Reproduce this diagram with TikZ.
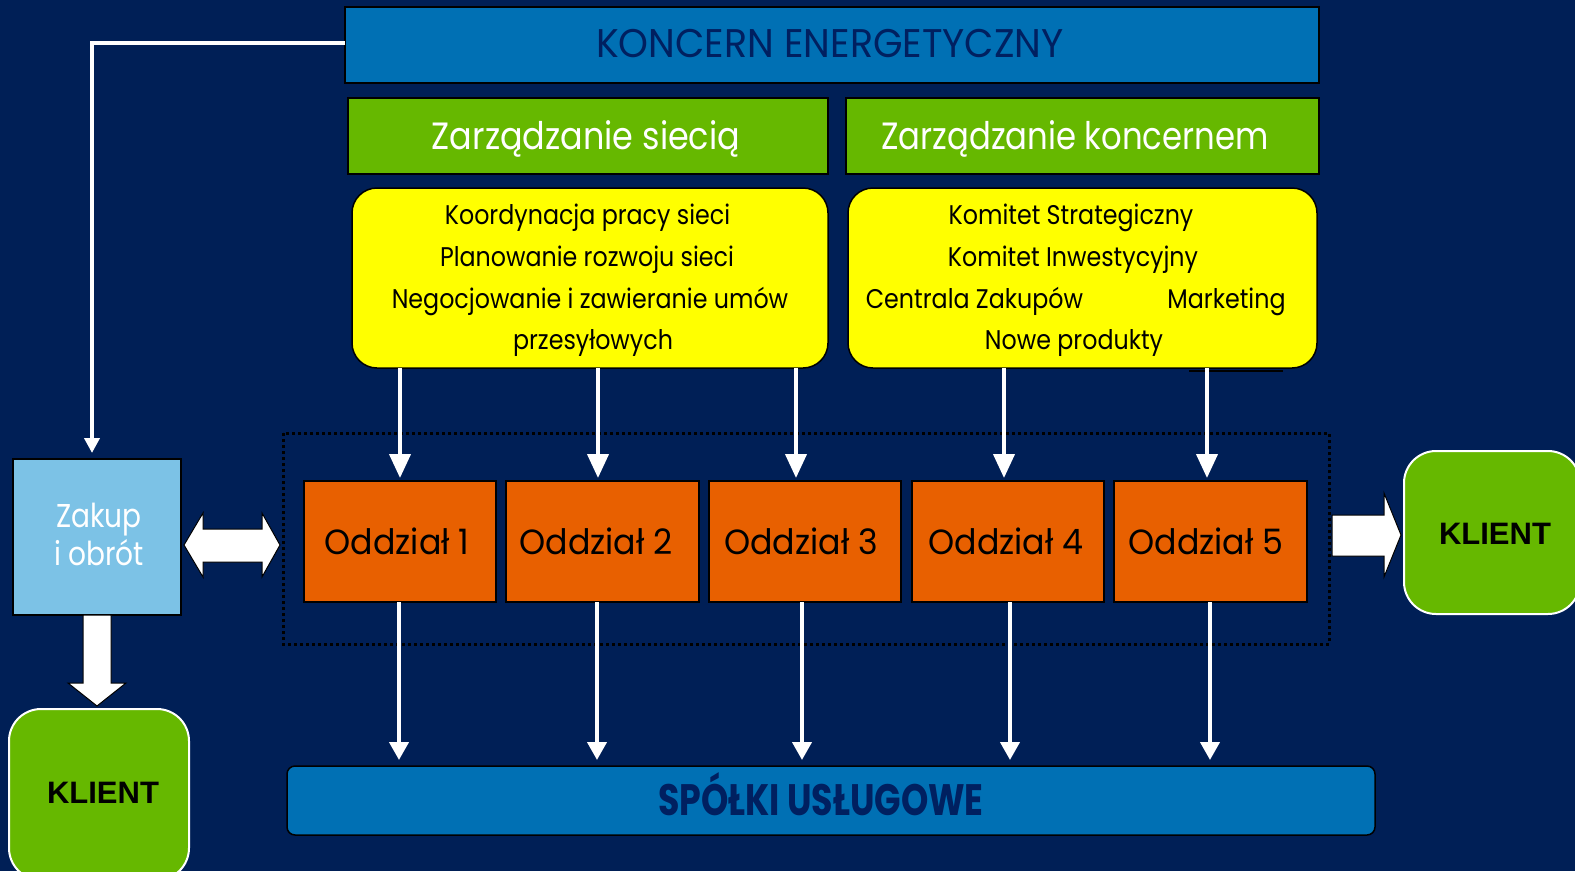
\documentclass[tikz,border=0pt]{standalone}
\usepackage{fontspec}
\setmainfont{Poppins}
\newfontfamily\fut[FakeStretch=0.85]{Poppins}
\newfontfamily\futm[FakeStretch=0.88]{Poppins}
\newfontfamily\futw[FakeStretch=0.95]{Poppins}
\newfontfamily\futc[FakeStretch=0.79]{Poppins}
\newfontfamily\arial{Liberation Sans}
\usetikzlibrary{arrows.meta,calc}
\definecolor{bgc}{RGB}{0,31,86}
\definecolor{bluec}{RGB}{0,112,180}
\definecolor{greenc}{RGB}{102,184,0}
\definecolor{yellowc}{RGB}{255,255,0}
\definecolor{orangec}{RGB}{232,96,0}
\definecolor{lightc}{RGB}{124,194,230}
\definecolor{navyc}{RGB}{0,32,96}
\begin{document}
\begin{tikzpicture}[x=1pt,y=-1pt,
  box/.style={draw=black,line width=1.5pt,inner sep=0pt,outer sep=0pt},
  txt/.style={inner sep=0pt,outer sep=0pt,anchor=base},
  yl/.style={txt,font=\futm\fontsize{27}{32}\selectfont,text=black},
  odd/.style={txt,font=\futw\fontsize{35}{40}\selectfont,text=black},
  kl/.style={txt,font=\arial\bfseries\fontsize{31}{36}\selectfont,text=black},
  arr/.style={draw=white,line width=4pt,-{Triangle[width=21pt,length=24pt]}},
  arrb/.style={draw=white,line width=4pt,-{Triangle[width=19pt,length=18pt]}},
  arrs/.style={draw=white,line width=4pt,-{Triangle[width=15pt,length=15pt]}},
  blockarr/.style={fill=white,draw=black,line width=1pt,line join=miter}
]
\fill[bgc] (0,0) rectangle (1575,871);
\useasboundingbox (0,0) rectangle (1575,871);

% boxes
\node[box,fill=bluec,minimum width=974pt,minimum height=76pt] (koncern) at (832,45) {};
\node[box,fill=greenc,minimum width=480pt,minimum height=76pt] (zs) at (588,136) {};
\node[box,fill=greenc,minimum width=473pt,minimum height=76pt] (zk) at (1082.5,136) {};
\node[box,fill=yellowc,rounded corners=25pt,minimum width=476pt,minimum height=180pt] (ys) at (590,278) {};
\node[box,fill=yellowc,rounded corners=25pt,minimum width=469pt,minimum height=180pt] (yk) at (1082.5,278) {};
\draw[black,line width=2pt] (1189,371) -- (1283,371);

\draw[black,line width=3pt,dash pattern=on 3pt off 3pt] (283,433) rectangle (1329,644);

\node[box,fill=lightc,minimum width=168pt,minimum height=156pt] (zakup) at (97,537) {};
\foreach \n/\cx/\w in {1/400/192,2/602.5/193,3/805/192,4/1008/192,5/1210.5/193}
  \node[box,fill=orangec,minimum width=\w pt,minimum height=121pt] (o\n) at (\cx,541.5) {};
\node[box,fill=bluec,rounded corners=8pt,minimum width=1088pt,minimum height=69pt] (spolki) at (831,800.5) {};
\node[draw=white,line width=2pt,fill=greenc,rounded corners=32pt,minimum width=176pt,minimum height=163pt,inner sep=0pt] (klientR) at (1492,532.5) {};
\node[draw=white,line width=2pt,fill=greenc,rounded corners=32pt,minimum width=180pt,minimum height=171pt,inner sep=0pt] (klientB) at (99,794.5) {};

% texts
\node[txt,font=\futw\fontsize{40}{46}\selectfont,text=navyc] (tkon) at (830,57) {KONCERN ENERGETYCZNY};
\node[txt,font=\futm\fontsize{38}{44}\selectfont,text=white] (tzs) at (586,149) {Zarządzanie siecią};
\node[txt,font=\fut\fontsize{38}{44}\selectfont,text=white] (tzk) at (1075,149) {Zarządzanie koncernem};
\node[yl] (ys1) at (587.5,224) {Koordynacja pracy sieci};
\node[yl] (ys2) at (587,266) {Planowanie rozwoju sieci};
\node[yl] (ys3) at (590,308) {Negocjowanie i zawieranie umów};
\node[yl] (ys4) at (593,349) {przesyłowych};
\node[yl] (yk1) at (1071,224) {Komitet Strategiczny};
\node[yl] (yk2) at (1073,266) {Komitet Inwestycyjny};
\node[yl] (yk3) at (974.5,308) {Centrala Zakupów};
\node[yl] (yk4) at (1226.5,308) {Marketing};
\node[yl] (yk5) at (1074,349) {Nowe produkty};
\node[odd] (to1) at (397,554) {Oddział 1};
\node[odd] (to2) at (596,554) {Oddział 2};
\node[odd] (to3) at (801,554) {Oddział 3};
\node[odd] (to4) at (1006,554) {Oddział 4};
\node[odd] (to5) at (1206,554) {Oddział 5};
\node[txt,font=\fut\fontsize{33}{40}\selectfont,text=white] (tz1) at (99,527) {Zakup};
\node[txt,font=\fut\fontsize{33}{40}\selectfont,text=white] (tz2) at (99,565) {i obrót};
\node[txt,font=\futc\bfseries\fontsize{44}{50}\selectfont,text=navyc] (tsp) at (821,815) {SPÓŁKI USŁUGOWE};
\node[kl] (tkr) at (1495,544) {KLIENT};
\node[kl] (tkb) at (103,803) {KLIENT};

% connectors
\draw[arrs,shorten >=6pt] ($(koncern.west)+(0,-2)$) -| ($(zakup.north)+(-5,0)$);
\draw[arr,shorten >=3pt] ($(ys.south -| o1.north)+(0,0)$) -- (o1.north);
\draw[arr,shorten >=3pt] ($(ys.south -| o2.north)+(-4.5,0)$) -- ($(o2.north)+(-4.5,0)$);
\draw[arr,shorten >=3pt] ($(ys.south -| o3.north)+(-9,0)$) -- ($(o3.north)+(-9,0)$);
\draw[arr,shorten >=3pt] ($(yk.south -| o4.north)+(-4,0)$) -- ($(o4.north)+(-4,0)$);
\draw[arr,shorten >=3pt] ($(yk.south -| o5.north)+(-3.5,0)$) -- ($(o5.north)+(-3.5,0)$);
\draw[arrb,shorten >=6pt] ($(o1.south)+(-1,0)$) -- ($(spolki.north -| o1.south)+(-1,0)$);
\draw[arrb,shorten >=6pt] ($(o2.south)+(-5.5,0)$) -- ($(spolki.north -| o2.south)+(-5.5,0)$);
\draw[arrb,shorten >=6pt] ($(o3.south)+(-3,0)$) -- ($(spolki.north -| o3.south)+(-3,0)$);
\draw[arrb,shorten >=6pt] ($(o4.south)+(2,0)$) -- ($(spolki.north -| o4.south)+(2,0)$);
\draw[arrb,shorten >=6pt] ($(o5.south)+(-0.5,0)$) -- ($(spolki.north -| o5.south)+(-0.5,0)$);

% block arrows
\draw[blockarr] (184,545) -- (203,513) -- (203,529) -- (262,529) -- (262,513) -- (280,545) -- (262,577) -- (262,562) -- (203,562) -- (203,577) -- cycle;
\draw[blockarr] (83,615) -- (111,615) -- (111,683) -- (126,683) -- (97,706) -- (68,683) -- (83,683) -- cycle;
\draw[blockarr] (1332,515) -- (1384,515) -- (1384,493) -- (1401,535) -- (1384,577) -- (1384,556) -- (1332,556) -- cycle;
\end{tikzpicture}
\end{document}
